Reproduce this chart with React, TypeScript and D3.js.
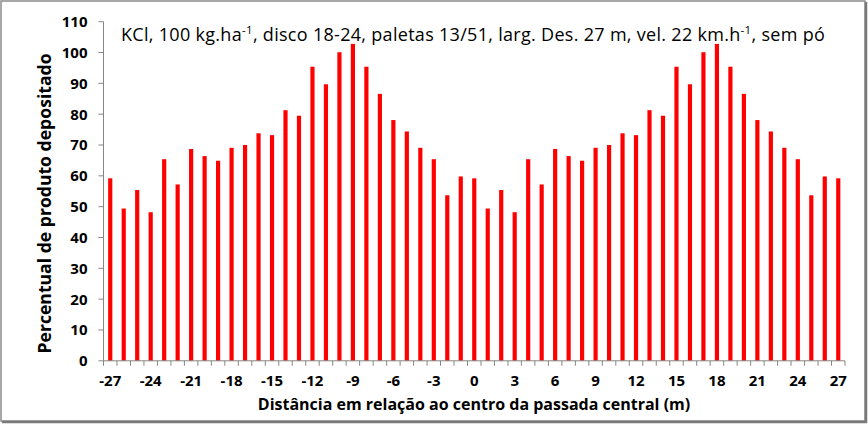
import React from "react";
import * as d3 from "d3";

const distances: number[] = d3.range(-27, 28);
const values: number[] = [
  59.2, 49.4, 55.4, 48.2, 65.4, 57.2, 68.7, 66.4, 64.9, 69.1, 70.0, 73.8, 73.2, 81.3, 79.5,
  95.4, 89.7, 100.1, 102.8, 95.4, 86.6, 78.1, 74.4, 69.1, 65.4, 53.7, 59.8,
  59.2, 49.4, 55.4, 48.2, 65.4, 57.2, 68.7, 66.4, 64.9, 69.1, 70.0, 73.8, 73.2, 81.3, 79.5,
  95.4, 89.7, 100.1, 102.8, 95.4, 86.6, 78.1, 74.4, 69.1, 65.4, 53.7, 59.8, 59.2,
];
const yTicks: number[] = [0, 10, 20, 30, 40, 50, 60, 70, 80, 90, 100, 110];
const xTickLabels: number[] = [-27, -24, -21, -18, -15, -12, -9, -6, -3, 0, 3, 6, 9, 12, 15, 18, 21, 24, 27];

const W = 868;
const H = 424;
const plot = { left: 103.5, right: 845, top: 21.7, bottom: 360.8 };
const font = "'Open Sans', Lato, sans-serif";
const axisColor = "#868686";

export default function App() {
  const x = d3
    .scaleBand<number>()
    .domain(distances)
    .range([plot.left, plot.right])
    .paddingInner(0.69)
    .paddingOuter(0.345);
  const xb = d3.scaleBand<number>().domain(distances).range([plot.left, plot.right]);
  const y = d3.scaleLinear().domain([0, 110]).range([plot.bottom, plot.top]);

  return (
    <svg width={W} height={H} style={{ position: "absolute", left: 0, top: 0, background: "#fff" }}>
      <rect x={0} y={0} width={W} height={H} fill="#fff" />
      {/* frame */}
      <rect x={1} y={1} width={W - 4} height={H - 4} fill="none" stroke="#8c8c8c" strokeWidth={1.5} />
      <line x1={W - 2} y1={2} x2={W - 2} y2={H - 1} stroke="#7a7a7a" strokeWidth={2.5} />
      <line x1={2} y1={H - 2} x2={W - 1} y2={H - 2} stroke="#7a7a7a" strokeWidth={2.5} />

      {/* bars */}
      {values.map((v, i) => (
        <rect
          key={i}
          x={x(distances[i])!}
          y={y(v)}
          width={x.bandwidth()}
          height={y(0) - y(v)}
          fill="#ff0000"
        />
      ))}

      {/* y axis */}
      <line x1={plot.left} y1={plot.top} x2={plot.left} y2={plot.bottom} stroke={axisColor} strokeWidth={1} />
      {yTicks.map((t) => (
        <g key={t}>
          <line x1={plot.left - 5} x2={plot.left} y1={y(t)} y2={y(t)} stroke={axisColor} strokeWidth={1} />
          <text
            x={plot.left - 16}
            y={y(t)}
            dy="0.36em"
            textAnchor="end"
            fontFamily={font}
            fontWeight="bold"
            fontSize={15}
            fill="#000"
          >
            {t}
          </text>
        </g>
      ))}

      {/* x axis */}
      <line x1={plot.left} y1={plot.bottom} x2={plot.right} y2={plot.bottom} stroke={axisColor} strokeWidth={1} />
      {distances.map((d) => (
        <line
          key={"t" + d}
          x1={xb(d)!}
          x2={xb(d)!}
          y1={plot.bottom}
          y2={plot.bottom + 5}
          stroke={axisColor}
          strokeWidth={1}
        />
      ))}
      <line x1={plot.right} x2={plot.right} y1={plot.bottom} y2={plot.bottom + 5} stroke={axisColor} strokeWidth={1} />
      {xTickLabels.map((d) => (
        <text
          key={"l" + d}
          x={xb(d)! + xb.bandwidth() / 2}
          y={386}
          textAnchor="middle"
          fontFamily={font}
          fontWeight="bold"
          fontSize={15}
          fill="#000"
        >
          {d}
        </text>
      ))}

      {/* axis titles */}
      <text
        x={474}
        y={410}
        textAnchor="middle"
        fontFamily={font}
        fontWeight="bold"
        fontSize={16}
        fill="#000"
      >
        Distância em relação ao centro da passada central (m)
      </text>
      <text
        transform={`translate(51, 203.5) rotate(-90)`}
        textAnchor="middle"
        fontFamily={font}
        fontWeight="bold"
        fontSize={17.6}
        fill="#000"
      >
        Percentual de produto depositado
      </text>

      {/* title */}
      <text x={121} y={40.5} fontFamily={font} fontSize={18} letterSpacing={0.3} fill="#000">
        KCl, 100 kg.ha
        <tspan dy={-6.5} fontSize={11.5}>-1</tspan>
        <tspan dy={6.5}>, disco 18-24, paletas 13/51, larg. Des. 27 m, vel. 22 km.h</tspan>
        <tspan dy={-6.5} fontSize={11.5}>-1</tspan>
        <tspan dy={6.5}>, sem pó</tspan>
      </text>
    </svg>
  );
}
